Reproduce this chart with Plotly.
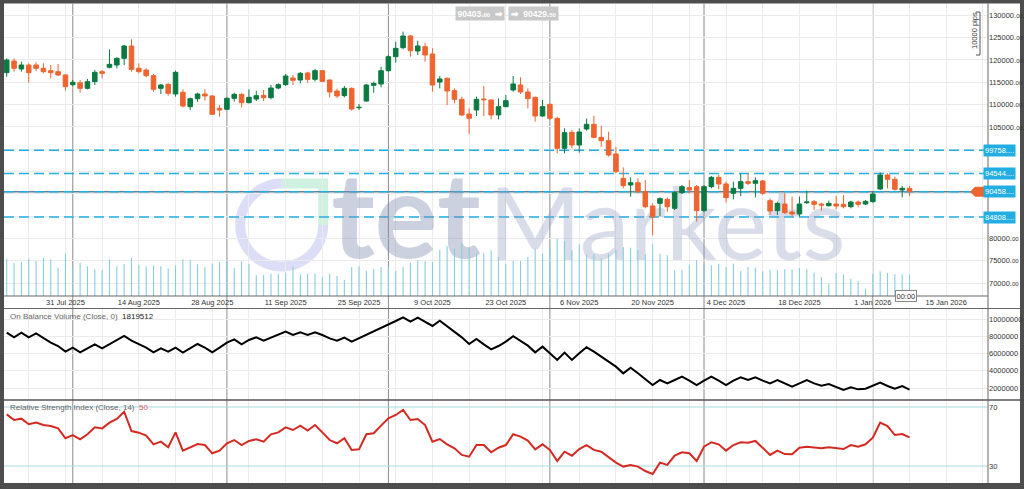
import numpy as np
import pandas as pd
import plotly.graph_objects as go

# ---------------- data ----------------
start_date = "2025-07-21"
end_date = "2026-01-08"
dates = pd.bdate_range(start_date, end_date)          # weekday candles

open_ = [117160, 119770, 117980, 118870, 118870, 118130, 117600, 117380, 116630, 114470,
         114910, 113640, 115140, 117380, 118350, 118870, 120370, 123130, 118130, 117750,
         116480, 113640, 114540, 112375, 112750, 109535, 111330, 112375, 111930, 109160,
         108940, 111400, 112300, 110430, 111255, 112075, 111550, 113720, 114470, 115960,
         115510, 117080, 115660, 117600, 115510, 113045, 112000, 113640, 109310, 110805,
         114315, 114620, 117600, 120740, 122760, 125370, 122010, 122980, 121340, 115060,
         115885, 113120, 111180, 107890, 108790, 111255, 111030, 107670, 109535, 113270,
         114390, 112820, 111630, 107445, 110060, 106920, 100200, 103785, 100945, 104530,
         105580, 102660, 101915, 98930, 93475, 91980, 92500, 90485, 87275, 87870,
         88770, 86750, 90265, 91385, 91610, 86230, 91610, 93700, 92210, 90115,
         91235, 92730, 92355, 92880, 88470, 86230, 87720, 85930, 85480, 88020,
         88245, 87720, 87350, 87720, 87650, 87125, 88170, 87720, 88245, 91085,
         94220, 93250, 90860, 91235]
high = [120370, 120370, 119620, 119250, 119470, 119250, 118870, 119100, 116860, 115510,
        115510, 115740, 117750, 117750, 122385, 120590, 123355, 124625, 119250, 118130,
        116860, 114620, 114765, 117600, 113420, 111550, 112670, 113420, 112150, 109910,
        111630, 112670, 112525, 113420, 113120, 113270, 114390, 114765, 116860, 116630,
        117305, 117380, 117980, 117750, 115660, 113570, 114170, 113870, 110130, 114620,
        115140, 118500, 121115, 124100, 126345, 125595, 124325, 123880, 122610, 116410,
        116110, 113640, 111780, 109160, 111780, 114170, 111180, 111400, 112150, 116410,
        116110, 113640, 111780, 111030, 110280, 107295, 104680, 104305, 104680, 106850,
        107520, 105280, 103930, 100570, 95940, 93700, 93475, 93100, 87875, 89220,
        89220, 90490, 91980, 93100, 91980, 91980, 94000, 94220, 92730, 92730,
        94600, 94600, 93700, 93100, 89000, 88245, 90115, 89370, 89370, 90710,
        88620, 88020, 88470, 89515, 89740, 88470, 88470, 88620, 90490, 94820,
        94600, 93850, 91760, 91760]
low = [116260, 117380, 117380, 114910, 117530, 117010, 115885, 116410, 113120, 114170,
       112670, 113420, 114390, 115885, 118130, 118130, 118870, 117380, 117010, 116110,
       112900, 112375, 112000, 111780, 109385, 108790, 110655, 110880, 107670, 107295,
       108790, 110655, 109385, 110280, 110805, 110805, 111180, 113420, 114170, 114390,
       114765, 114910, 115210, 115060, 111630, 111480, 111630, 108640, 108790, 110655,
       112670, 113870, 117380, 119395, 122385, 120740, 121115, 119620, 112900, 113640,
       109910, 110280, 107445, 103410, 107445, 107445, 106700, 106700, 109385, 112900,
       112375, 109160, 106175, 107295, 106550, 99080, 99080, 100200, 99230, 104160,
       102440, 100570, 98330, 94600, 91235, 89370, 90115, 86750, 80700, 85035,
       85990, 86380, 89965, 90115, 83765, 85990, 91235, 91010, 88020, 88770,
       89515, 91980, 89220, 89740, 85260, 85260, 85480, 84885, 84885, 87720,
       86380, 86230, 87125, 86530, 86750, 86750, 86975, 87500, 88020, 90860,
       91235, 90710, 89220, 89515]
close = [119990, 118130, 118870, 117160, 118130, 117380, 117160, 116630, 114020, 114990,
         113640, 115140, 117230, 117010, 119020, 120370, 123130, 117900, 117380, 116480,
         113420, 114390, 112525, 117230, 109685, 111330, 112375, 111930, 107820, 108790,
         111400, 112300, 110430, 111630, 112000, 111550, 113720, 114470, 116410, 115440,
         117010, 115660, 117600, 115210, 112820, 111930, 113640, 109010, 109385, 114390,
         114765, 117600, 120740, 122610, 125370, 122085, 123130, 121115, 114390, 115740,
         113045, 111180, 107670, 106920, 111180, 111105, 107670, 109535, 110880, 114620,
         112820, 111330, 107445, 109535, 106920, 100200, 103710, 100945, 103860, 105580,
         102660, 101915, 98700, 94970, 91830, 92500, 90485, 87125, 84885, 88920,
         87125, 90265, 91610, 90860, 86230, 91610, 93700, 92210, 89145, 91235,
         92730, 92355, 92950, 90115, 86155, 87870, 85780, 85480, 87720, 88170,
         87650, 87500, 87870, 87275, 87125, 88170, 87650, 88320, 89965, 94220,
         93250, 91010, 91235, 90485]
volume_k = [639, 565, 582, 639, 599, 656, 628, 485, 725, 497,
            571, 508, 457, 439, 628, 508, 554, 656, 536, 508,
            525, 508, 474, 525, 628, 622, 542, 497, 554, 582,
            611, 479, 594, 554, 354, 365, 382, 382, 400, 497,
            371, 382, 382, 325, 382, 342, 280, 497, 508, 428,
            468, 497, 497, 428, 497, 571, 611, 594, 582, 793,
            850, 810, 907, 810, 725, 736, 782, 668, 554, 599,
            599, 668, 810, 725, 839, 982, 942, 782, 885, 713,
            713, 639, 725, 793, 839, 828, 793, 713, 885, 725,
            696, 439, 451, 525, 611, 542, 525, 554, 497, 554,
            428, 497, 485, 422, 451, 439, 457, 457, 479, 457,
            400, 325, 211, 400, 365, 297, 251, 126, 382, 422,
            394, 371, 371, 371]
obv_k = [8416, 7875, 8416, 7875, 8338, 7759, 7256, 6870, 6213, 6677,
         6135, 6599, 7063, 6599, 7102, 7565, 8029, 7488, 7063, 6677,
         6135, 6599, 6213, 6677, 6097, 6599, 7102, 6677, 6135, 6677,
         7256, 7643, 7063, 7565, 7875, 7488, 7836, 8145, 8532, 8145,
         8454, 8145, 8454, 8145, 7759, 7488, 7836, 7372, 7759, 8145,
         8532, 8918, 9382, 9768, 10193, 9691, 10155, 9691, 9189, 9807,
         9189, 8532, 7875, 7102, 7681, 7063, 6483, 6870, 7372, 8000,
         7488, 6908, 6135, 6792, 6020, 5247, 6097, 5247, 6020, 6715,
         6213, 5633, 5053, 4474, 3701, 4358, 3701, 3044, 2348, 2928,
         2541, 2928, 3314, 2851, 2348, 2851, 3314, 2851, 2348, 2851,
         3237, 2928, 3237, 2851, 2541, 2928, 2541, 2155, 2541, 2928,
         2541, 2271, 2464, 2077, 1768, 2077, 1845, 1923, 2232, 2619,
         2232, 1923, 2232, 1820]
rsi = [65.0, 61.2, 62.1, 58.3, 59.4, 57.8, 57.1, 55.5, 48.8, 51.0,
       48.1, 51.5, 56.2, 55.5, 59.4, 61.9, 66.8, 53.7, 52.6, 50.6,
       44.7, 46.5, 42.7, 52.8, 40.4, 42.7, 44.9, 44.2, 38.6, 40.4,
       45.4, 47.6, 44.2, 47.0, 48.1, 46.5, 51.5, 52.8, 56.2, 54.4,
       57.4, 54.0, 57.8, 52.8, 47.6, 45.4, 48.8, 40.9, 41.3, 51.5,
       52.2, 57.4, 62.3, 64.6, 68.0, 61.2, 61.9, 57.8, 46.5, 48.3,
       44.7, 42.0, 37.5, 36.3, 44.2, 44.2, 39.3, 42.4, 44.2, 51.5,
       49.9, 47.2, 41.3, 44.7, 40.9, 33.4, 39.7, 37.0, 41.5, 44.2,
       40.9, 39.7, 36.3, 32.3, 29.6, 30.7, 29.6, 26.6, 24.6, 32.3,
       30.7, 37.0, 39.3, 38.6, 33.4, 43.1, 46.1, 44.7, 40.4, 44.2,
       46.1, 45.8, 47.0, 42.4, 37.5, 40.4, 38.1, 37.9, 42.4, 43.1,
       42.7, 42.0, 42.7, 42.0, 41.5, 44.2, 43.1, 44.7, 49.2, 59.4,
       57.1, 51.0, 51.7, 49.4]

label_dates = ["2025-07-31", "2025-08-14", "2025-08-28", "2025-09-11", "2025-09-25",
               "2025-10-09", "2025-10-23", "2025-11-06", "2025-11-20", "2025-12-04",
               "2025-12-18", "2026-01-01", "2026-01-15"]
label_texts = ["31 Jul 2025", "14 Aug 2025", "28 Aug 2025", "11 Sep 2025", "25 Sep 2025",
               "9 Oct 2025", "23 Oct 2025", "6 Nov 2025", "20 Nov 2025", "4 Dec 2025",
               "18 Dec 2025", "1 Jan 2026", "15 Jan 2026"]
month_sep_dates = ["2025-08-01", "2025-09-01", "2025-10-01", "2025-10-31",
                   "2025-12-01", "2026-01-01"]
price_ticks = [70000, 75000, 80000, 85000, 90000, 95000, 100000, 105000,
               110000, 115000, 120000, 125000, 130000]
price_ticks_hidden = [85000, 90000, 95000, 100000]   # covered by the level tags
obv_ticks = [2000000, 4000000, 6000000, 8000000, 10000000]
rsi_ticks = [30, 70]
levels = [99758, 94544, 90458, 84808]
level_texts = ["99758....", "94544....", "90458....", "84808...."]
current_level = 90458
bid_text, ask_text = ("90403", "00"), ("90429", "50")
obv_last = 1819512
rsi_last = 50

# ---------------- geometry ----------------
W, H = 1024, 489
def PX(x): return x / W
def PY(y): return 1 - y / H

axis_days = pd.bdate_range(start_date, "2026-02-27")
pos = {d.strftime("%Y-%m-%d"): i for i, d in enumerate(axis_days)}
xi = list(range(len(dates)))
week_vals = [i for i, d in enumerate(axis_days) if d.weekday() == 3]
lab_map = dict(zip(label_dates, label_texts))
week_text = [lab_map.get(axis_days[i].strftime("%Y-%m-%d"), "") for i in week_vals]

X_RANGE = [-0.37, 133.69]
PRICE_RANGE = [67106, 132544]
OBV_RANGE = [667000, 11217000]
RSI_RANGE = [18.47, 74.41]
XDOM = [PX(4), PX(988)]

def x_at(px):
    return X_RANGE[0] + (px - 4) / 984 * (X_RANGE[1] - X_RANGE[0])
def price_at(py):
    return PRICE_RANGE[1] - (py - 4) / 292 * (PRICE_RANGE[1] - PRICE_RANGE[0])
def py_of(price):
    return 4 + (PRICE_RANGE[1] - price) / (PRICE_RANGE[1] - PRICE_RANGE[0]) * 292

GREEN = "#0b7a42"
ORANGE = "#ee6430"
CYAN = "#22aee3"
GRID = "#ebebeb"
FONT = "Liberation Sans"

fig = go.Figure()

# watermark (bottom layer)
fig.add_trace(go.Scatter(x=[x_at(406)], y=[price_at(228)], mode="text", text=["<b>tet</b>"],
                         textposition="middle center",
                         textfont=dict(family="Lato", size=118, color="rgba(128,140,176,0.40)"),
                         xaxis="x", yaxis="y", hoverinfo="skip", showlegend=False))
fig.add_trace(go.Scatter(x=[x_at(667)], y=[price_at(235)], mode="text", text=["Markets"],
                         textposition="middle center",
                         textfont=dict(family="Lato", size=100, color="rgba(140,154,190,0.34)"),
                         xaxis="x", yaxis="y", hoverinfo="skip", showlegend=False))

# volume
fig.add_trace(go.Bar(x=xi, y=[v * 1000 for v in volume_k], width=0.15, xaxis="x", yaxis="y2",
                     marker=dict(color="#86cde0", line=dict(width=0)),
                     hoverinfo="skip", showlegend=False))

# candles
fig.add_trace(go.Candlestick(x=xi, open=open_, high=high, low=low, close=close,
                             xaxis="x", yaxis="y3", whiskerwidth=0,
                             increasing=dict(line=dict(color=GREEN, width=1), fillcolor=GREEN),
                             decreasing=dict(line=dict(color=ORANGE, width=1), fillcolor=ORANGE),
                             hoverinfo="skip", showlegend=False))

# OBV
fig.add_trace(go.Scatter(x=xi, y=[v * 1000 for v in obv_k], mode="lines", xaxis="x2", yaxis="y4",
                         line=dict(color="#000000", width=2), hoverinfo="skip", showlegend=False))
# RSI
fig.add_trace(go.Scatter(x=xi, y=rsi, mode="lines", xaxis="x3", yaxis="y5",
                         line=dict(color="#d42a22", width=2), hoverinfo="skip", showlegend=False))

tickfont = dict(family=FONT, size=7.5, color="#333333")
price_text = ["" if v in price_ticks_hidden else f"{v}.<span style='font-size:6px'>00</span>"
              for v in price_ticks]

shapes = []
# white canvas
shapes.append(dict(type="rect", xref="paper", yref="paper", x0=PX(4), x1=PX(1020), y0=PY(483), y1=PY(3.5),
                   fillcolor="white", line=dict(width=0), layer="below"))
# watermark ring (3/4) and green corner
cx, cy, Ro, Ri = 281.7, 225.0, 46.5, 36.5
ang = np.linspace(np.pi / 2, 2 * np.pi, 60)
outer = [(cx + Ro * np.cos(a), cy - Ro * np.sin(a)) for a in ang]
inner = [(cx + Ri * np.cos(a), cy - Ri * np.sin(a)) for a in ang[::-1]]
pts = outer + inner
path = "M " + " L ".join(f"{PX(x):.5f},{PY(y):.5f}" for x, y in pts) + " Z"
shapes.append(dict(type="path", xref="paper", yref="paper", path=path, fillcolor="#dcdef8",
                   line=dict(width=0), layer="below"))
gpts = [(cx, cy - Ro), (cx + Ro, cy - Ro), (cx + Ro, cy), (cx + Ri, cy), (cx + Ri, cy - Ri), (cx, cy - Ri)]
gpath = "M " + " L ".join(f"{PX(x):.5f},{PY(y):.5f}" for x, y in gpts) + " Z"
shapes.append(dict(type="path", xref="paper", yref="paper", path=gpath, fillcolor="#cff2e0",
                   line=dict(width=0), layer="below"))
# month separators
for d in month_sep_dates:
    shapes.append(dict(type="line", xref="x", yref="paper", x0=pos[d], x1=pos[d], y0=PY(483), y1=PY(3.5),
                       line=dict(color="#8a8a8a", width=1), layer="below"))
# level lines
for lv in levels:
    if lv == current_level:
        shapes.append(dict(type="line", xref="x", yref="y", x0=X_RANGE[0], x1=X_RANGE[1], y0=lv, y1=lv,
                           line=dict(color="#6f7f86", width=1.5), layer="between"))
    shapes.append(dict(type="line", xref="x", yref="y", x0=X_RANGE[0], x1=X_RANGE[1], y0=lv, y1=lv,
                       line=dict(color=CYAN, width=1.5, dash="10px,5px"), layer="between"))
# RSI bands
for r in rsi_ticks:
    shapes.append(dict(type="line", xref="x3", yref="y5", x0=X_RANGE[0], x1=X_RANGE[1], y0=r, y1=r,
                       line=dict(color="#a6d9e2", width=1), layer="between"))
# orange current-price pointer (peeks out from under the cyan tag)
cy_px = py_of(current_level)
shapes.append(dict(type="path", xref="paper", yref="paper",
                   path=(f"M {PX(970)},{PY(cy_px)} L {PX(975)},{PY(cy_px - 5)} L {PX(990)},{PY(cy_px - 5)} "
                         f"L {PX(990)},{PY(cy_px + 5)} L {PX(975)},{PY(cy_px + 5)} Z"),
                   fillcolor=ORANGE, line=dict(width=0)))
# panel borders
border = "#666666"
shapes += [
    dict(type="line", xref="paper", yref="paper", x0=PX(4), x1=PX(988), y0=PY(296), y1=PY(296),
         line=dict(color=border, width=1)),
    dict(type="line", xref="paper", yref="paper", x0=PX(4), x1=PX(1020), y0=PY(308.5), y1=PY(308.5),
         line=dict(color=border, width=1)),
    dict(type="line", xref="paper", yref="paper", x0=PX(4), x1=PX(1020), y0=PY(400), y1=PY(400),
         line=dict(color="#555555", width=1.5)),
    dict(type="line", xref="paper", yref="paper", x0=PX(988), x1=PX(988), y0=PY(483), y1=PY(3.5),
         line=dict(color=border, width=1)),
    # 10000 pips bracket
    dict(type="path", xref="paper", yref="paper",
         path=f"M {PX(976)},{PY(12)} L {PX(980)},{PY(12)} L {PX(980)},{PY(55)} L {PX(976)},{PY(55)}",
         line=dict(color="#555555", width=1)),
]

ann = []
for lv, t in zip(levels, level_texts):
    ann.append(dict(xref="paper", yref="y", x=PX(983), y=lv, xanchor="left", yanchor="middle",
                    text=t, showarrow=False, bgcolor=CYAN,
                    font=dict(family=FONT, size=7.5, color="white"), borderpad=1))
ann.append(dict(xref="paper", yref="paper", x=PX(480), y=PY(14), xanchor="center", yanchor="middle",
                text=f"<b>{bid_text[0]}.<span style='font-size:6px'>{bid_text[1]}</span>  ➡</b>",
                showarrow=False, bgcolor="#c8c8c8", font=dict(family=FONT, size=8.5, color="white"),
                borderpad=1.5))
ann.append(dict(xref="paper", yref="paper", x=PX(533), y=PY(14), xanchor="center", yanchor="middle",
                text=f"<b>➡  {ask_text[0]}.<span style='font-size:6px'>{ask_text[1]}</span></b>",
                showarrow=False, bgcolor="#c8c8c8", font=dict(family=FONT, size=8.5, color="white"),
                borderpad=1.5))
ann.append(dict(xref="paper", yref="paper", x=PX(974), y=PY(31), xanchor="center", yanchor="middle",
                text="10000 pips", textangle=-90, showarrow=False,
                font=dict(family=FONT, size=7.5, color="#333333")))
ann.append(dict(xref="paper", yref="paper", x=PX(906), y=PY(295.5), xanchor="center", yanchor="middle",
                text="00:00", showarrow=False, bgcolor="white", bordercolor="#888888", borderwidth=1,
                borderpad=0.5, font=dict(family=FONT, size=7.5, color="#333333")))
ann.append(dict(xref="paper", yref="paper", x=PX(8), y=PY(316), xanchor="left", yanchor="middle",
                text=f"On Balance Volume (Close, 0)  <span style='color:#222222'>{obv_last}</span>",
                showarrow=False, font=dict(family=FONT, size=8, color="#666666")))
ann.append(dict(xref="paper", yref="paper", x=PX(8), y=PY(407.5), xanchor="left", yanchor="middle",
                text=f"Relative Strength Index (Close, 14)  <span style='color:#e05a5a'>{rsi_last}</span>",
                showarrow=False, font=dict(family=FONT, size=8, color="#666666")))

xcommon = dict(range=X_RANGE, domain=XDOM, tickmode="array", tickvals=week_vals,
               showgrid=True, gridcolor=GRID, gridwidth=1, zeroline=False, showline=False, ticks="")

fig.update_layout(
    width=W, height=H, autosize=False,
    margin=dict(l=0, r=0, t=0, b=0, pad=0),
    paper_bgcolor="#4d4d4d", plot_bgcolor="rgba(0,0,0,0)",
    showlegend=False, hovermode=False, dragmode=False,
    boxgap=0.38, boxgroupgap=0,
    xaxis=dict(**xcommon, anchor="y", ticktext=week_text, showticklabels=True, tickfont=tickfont,
               rangeslider=dict(visible=False)),
    yaxis=dict(domain=[PY(296), PY(4)], range=PRICE_RANGE, side="right", anchor="x",
               tickmode="array", tickvals=price_ticks, ticktext=price_text, tickfont=tickfont,
               showgrid=True, gridcolor=GRID, zeroline=False, showline=False, ticks=""),
    yaxis2=dict(overlaying="y", anchor="x", range=[0, 5000000], visible=False),
    yaxis3=dict(overlaying="y", anchor="x", range=PRICE_RANGE, visible=False),
    xaxis2=dict(**xcommon, anchor="y4", showticklabels=False),
    yaxis4=dict(domain=[PY(399.5), PY(308.5)], range=OBV_RANGE, side="right", anchor="x2",
                tickmode="array", tickvals=obv_ticks, ticktext=[str(v) for v in obv_ticks],
                tickfont=tickfont, showgrid=True, gridcolor=GRID, zeroline=False, ticks=""),
    xaxis3=dict(**xcommon, anchor="y5", showticklabels=False),
    yaxis5=dict(domain=[PY(483), PY(400.5)], range=RSI_RANGE, side="right", anchor="x3",
                tickmode="array", tickvals=rsi_ticks, ticktext=[str(v) for v in rsi_ticks],
                tickfont=tickfont, showgrid=False, zeroline=False, ticks=""),
    shapes=shapes, annotations=ann,
)

fig.write_html("out.html", config={"displayModeBar": False, "staticPlot": True},
               post_script="document.body.style.margin='0';")
